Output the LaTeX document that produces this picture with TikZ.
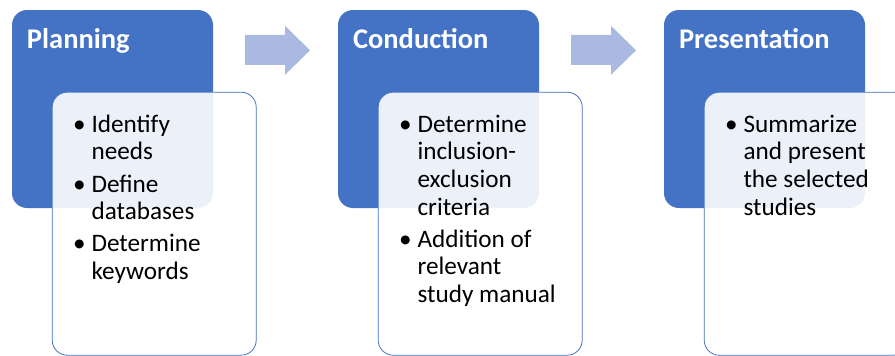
\documentclass[tikz,border=0pt]{standalone}
\usepackage{fontspec}
\setmainfont{Carlito}
\usetikzlibrary{positioning,calc}
\definecolor{stageBlue}{HTML}{4472C4}
\definecolor{arrowBlue}{HTML}{A9B9DF}
\newcommand{\itemFont}{\fontsize{25.2}{27.6}\selectfont}
\begin{document}
\begin{tikzpicture}
[x=1pt,y=-1pt,
  stageDecorate/.style={rounded corners=15pt,fill=stageBlue,minimum width=201pt,
    minimum height=198pt,inner sep=0pt},%
  titleDecorate/.style={text=white,font=\fontsize{28.5}{32}\selectfont\bfseries,
    inner sep=0pt,anchor=base west},%
  listDecorate/.style={rounded corners=15pt,draw=stageBlue,line width=0.8pt,fill=white,
    fill opacity=0.9,minimum width=204pt,minimum height=263pt,inner sep=0pt,anchor=north west},%
  itemDecorate/.style={inner sep=0pt,anchor=north west,font=\itemFont},%
  blockArrow/.style={fill=arrowBlue}]
\useasboundingbox (0,0) rectangle (895,356);
\clip (0,0) rectangle (895,356);
%% stages
\foreach \stagename/\x/\stagetitle in {
  plan/0/Planning, cond/326/Conduction, pres/652/Presentation}
{
  \node (\stagename) at (112.5+\x,109) [stageDecorate] {};
  \node (\stagename-title) at ([xshift=15pt,yshift=-38.5pt]\stagename.north west)
    [titleDecorate] {\stagetitle};
}
%% lists
\foreach \stagename in {plan, cond, pres}
{
  \node (\stagename-list) at ([xshift=40pt,yshift=-82pt]\stagename.north west)
    [listDecorate] {};
}
\node (plan-items) at ([xshift=21pt,yshift=-21pt]plan-list.north west) [itemDecorate]
  {\begin{tabular}{@{}l@{\hspace{6pt}}l@{}}
  \textbullet & Identify\\ & needs\\[4.5pt]
  \textbullet & Define\\ & databases\\[4.5pt]
  \textbullet & Determine\\ & keywords
  \end{tabular}};
\node (cond-items) at ([xshift=21pt,yshift=-21pt]cond-list.north west) [itemDecorate]
  {\begin{tabular}{@{}l@{\hspace{6pt}}l@{}}
  \textbullet & Determine\\ & inclusion-\\ & exclusion\\ & criteria\\[4.5pt]
  \textbullet & Addition of\\ & relevant\\ & study manual
  \end{tabular}};
\node (pres-items) at ([xshift=21pt,yshift=-21pt]pres-list.north west) [itemDecorate]
  {\begin{tabular}{@{}l@{\hspace{6pt}}l@{}}
  \textbullet & Summarize\\ & and present\\ & the selected\\ & studies
  \end{tabular}};
%% arrows between stages
\foreach \startnode/\endnode in {plan/cond, cond/pres}
{
  \coordinate (\startnode-arrow) at ($(\startnode.north east)!0.5!(\endnode.north west)$);
  \fill[blockArrow] ([xshift=-30.5pt,yshift=-25pt]\startnode-arrow)
    -- ++(40,0) -- ++(0,-9) -- ++(25,24.5) -- ++(-25,24.5) -- ++(0,-10)
    -- ++(-40,0) -- cycle;
}
\end{tikzpicture}
\end{document}
